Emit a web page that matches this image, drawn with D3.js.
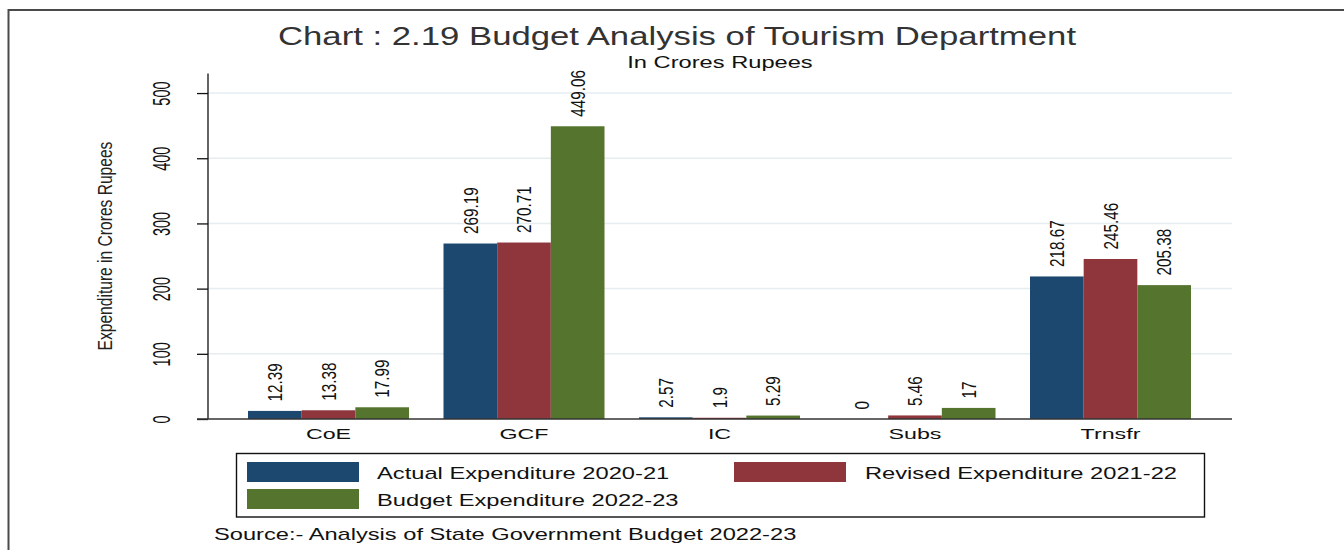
<!DOCTYPE html>
<html>
<head>
<meta charset="utf-8">
<script src="https://cdn.jsdelivr.net/npm/d3@7"></script>
<style>
  html, body { margin: 0; padding: 0; background: #fff; }
  svg { display: block; }
  text { font-family: "Liberation Sans", Arial, Helvetica, sans-serif; }
</style>
</head>
<body>
<svg id="chart" width="1344" height="550"></svg>
<script>
// Budget heads and the three expenditure series (Rs. crore)
const categories = ["CoE", "GCF", "IC", "Subs", "Trnsfr"];
const actual2021  = [12.39, 269.19, 2.57, 0, 218.67];
const revised2122 = [13.38, 270.71, 1.9, 5.46, 245.46];
const budget2223  = [17.99, 449.06, 5.29, 17, 205.38];
const seriesNames = [
  "Actual Expenditure 2020-21",
  "Revised Expenditure 2021-22",
  "Budget Expenditure 2022-23"
];
const seriesValues = [actual2021, revised2122, budget2223];
const yTicks = [0, 100, 200, 300, 400, 500];

const colors = ["#1c476f", "#8f353c", "#55752f"];

const svg = d3.select("#chart");

// horizontally widened text (the graph is drawn with a wide aspect)
function wideText(parent, x, y, sx, rotate) {
  return parent.append("text")
    .attr("transform", `translate(${x},${y}) scale(${sx},1)` + (rotate ? " rotate(-90)" : ""));
}

// outer frame
svg.append("rect")
  .attr("x", 8.5).attr("y", 10)
  .attr("width", 1400).attr("height", 600)
  .attr("fill", "none").attr("stroke", "#4a4a4a").attr("stroke-width", 2);

// titles
wideText(svg, 677, 45, 1.31)
  .attr("text-anchor", "middle")
  .attr("font-size", 26.5).attr("fill", "#333")
  .text("Chart : 2.19 Budget Analysis of Tourism Department");
wideText(svg, 720, 68, 1.48)
  .attr("text-anchor", "middle")
  .attr("font-size", 16).attr("fill", "#111")
  .text("In Crores Rupees");

// plot area
const plotLeft = 208, plotRight = 1232, plotBottom = 419, plotTop = 73.5;

const y = d3.scaleLinear().domain([0, 530]).range([plotBottom, plotTop]);
const x0 = d3.scaleBand().domain(categories).range([248, 1191]).paddingInner(0.1765);
const x1 = d3.scaleBand().domain(d3.range(seriesNames.length)).range([0, x0.bandwidth()]);

// grid lines
svg.append("g").selectAll("line")
  .data(yTicks.filter(t => t > 0))
  .join("line")
  .attr("x1", plotLeft).attr("x2", plotRight)
  .attr("y1", d => y(d)).attr("y2", d => y(d))
  .attr("stroke", "#e5edf0").attr("stroke-width", 1.5);

// y axis
const yAxis = d3.axisLeft(y).tickValues(yTicks).tickSize(11).tickFormat(d3.format("d"));
const gy = svg.append("g").attr("transform", `translate(${plotLeft},0)`).call(yAxis);
gy.select(".domain").remove();
gy.append("line").attr("x1", 0).attr("x2", 0).attr("y1", plotTop).attr("y2", plotBottom)
  .attr("stroke", "#111").attr("stroke-width", 1.3);
gy.selectAll(".tick line").attr("stroke", "#111").attr("stroke-width", 1.3);
gy.selectAll(".tick text")
  .attr("font-family", null)
  .attr("font-size", 14.5).attr("fill", "#111")
  .attr("x", 0).attr("dy", null)
  .attr("text-anchor", "middle")
  .attr("dominant-baseline", "central")
  .attr("transform", "translate(-47,0) scale(1.7,1) rotate(-90)");

// y axis title
wideText(svg, 105, 246, 1.3, true)
  .attr("text-anchor", "middle").attr("dominant-baseline", "central")
  .attr("font-size", 15.6).attr("fill", "#222")
  .text("Expenditure in Crores Rupees");

// bars
const groups = svg.append("g").selectAll("g")
  .data(categories)
  .join("g")
  .attr("transform", d => `translate(${x0(d)},0)`);

const cells = (c, i) => seriesValues.map((vals, s) => ({ s, v: vals[i] }));

groups.selectAll("rect")
  .data(cells)
  .join("rect")
  .attr("x", d => x1(d.s))
  .attr("width", x1.bandwidth())
  .attr("y", d => y(d.v))
  .attr("height", d => y(0) - y(d.v))
  .attr("fill", d => colors[d.s]);

// value labels
groups.selectAll("text")
  .data(cells)
  .join("text")
  .attr("font-size", 15.3).attr("fill", "#111")
  .attr("text-anchor", "start")
  .attr("dominant-baseline", "central")
  .attr("transform", d => `translate(${x1(d.s) + x1.bandwidth() / 2 + 0.5},${y(d.v) - 9.5}) scale(1.35,1) rotate(-90)`)
  .text(d => d3.format("")(d.v));

// x axis
svg.append("line")
  .attr("x1", 197).attr("x2", plotRight)
  .attr("y1", plotBottom).attr("y2", plotBottom)
  .attr("stroke", "#333").attr("stroke-width", 1.3);

const xAxis = d3.axisBottom(x0).tickSize(0);
const gx = svg.append("g").attr("transform", `translate(0,${plotBottom})`).call(xAxis);
gx.select(".domain").remove();
gx.selectAll(".tick text")
  .attr("font-family", null)
  .attr("font-size", 15.5).attr("fill", "#111")
  .attr("y", null).attr("dy", null)
  .attr("text-anchor", "middle")
  .attr("transform", "translate(0,20) scale(1.5,1)");

// legend
const legend = svg.append("g");
legend.append("rect")
  .attr("x", 236.5).attr("y", 453.5).attr("width", 968).attr("height", 63.5)
  .attr("fill", "#fff").attr("stroke", "#111").attr("stroke-width", 1.4);

const legendPos = [
  { kx: 247, ky: 462, tx: 377 },
  { kx: 734, ky: 462, tx: 865 },
  { kx: 247, ky: 489, tx: 377 }
];
seriesNames.forEach((name, i) => {
  const p = legendPos[i];
  legend.append("rect")
    .attr("x", p.kx).attr("y", p.ky).attr("width", 112).attr("height", 20)
    .attr("fill", colors[i]);
  wideText(legend, p.tx, p.ky + 16.5, 1.5)
    .attr("font-size", 15.8).attr("fill", "#111")
    .text(name);
});

// source note
wideText(svg, 214, 539.5, 1.46)
  .attr("font-size", 16.2).attr("fill", "#111")
  .text("Source:- Analysis of State Government Budget 2022-23");
</script>
</body>
</html>
